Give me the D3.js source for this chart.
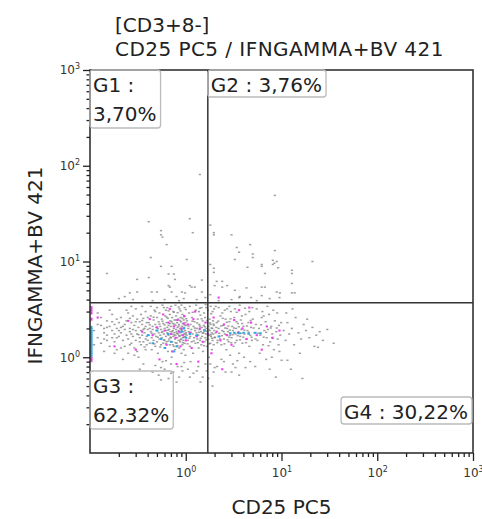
<!DOCTYPE html>
<html>
<head>
<meta charset="utf-8">
<script src="https://cdn.jsdelivr.net/npm/d3@7"></script>
<style>
body { margin: 0; background: #fff; }
text { font-family: "DejaVu Sans", sans-serif; }
</style>
</head>
<body>
<div id="plot"></div>
<script>
// titles / labels
var titleLines = ["[CD3+8-]", "CD25 PC5 / IFNGAMMA+BV 421"];
var xLabel = "CD25 PC5";
var yLabel = "IFNGAMMA+BV 421";
var majorTicks = [1, 10, 100, 1000];
var tickExp = ["0", "1", "2", "3"];

// quadrant gate
var cd25Gate = 1.7;
var ifngGate = 3.7;
var gateNames = ["G1", "G2", "G3", "G4"];
var gatePct = ["3,70%", "3,76%", "62,32%", "30,22%"];

// events [CD25, IFNg]
var grayEvents = [
  [1.4,81],[8.5,49],[0.41,26],[1.1,28],[0.55,21],[0.55,19],[0.57,18],[1.18,20],[1.8,24],[1.96,20],
  [1.96,19],[3.0,19],[0.63,15],[3.4,14],[4.7,15],[8.5,13],[0.43,11],[1.02,10.5],[5.0,12],[8.1,10.3],
  [8.9,10],[21,10],[0.55,8.9],[0.71,8.9],[1.8,9.3],[1.96,8.5],[1.96,7.7],[3.25,10.5],[4.4,8.7],[6.2,9.3],
  [8.1,9.3],[12.8,8.1],[12.8,7.5],[0.15,7.5],[0.31,6.5],[0.41,6.8],[0.66,7.4],[0.75,7.4],[0.77,6.5],[1.47,6.4],
  [6.7,7.5],[12.8,5.9],[1.8,4.5],[2.1,6.2],[2.4,6.2],[2.7,5.6],[2.4,5.4],[2.0,5.6],[4.3,5.3],[6.2,5.4],
  [6.7,5.4],[3.25,5.0],[1.15,5.4],[1.24,5.4],[1.1,5.6],[0.66,5.6],[0.68,5.4],[0.31,4.8],[0.26,4.7],[0.23,4.3],
  [0.44,4.8],[0.5,4.8],[0.71,4.8],[0.8,4.3],[0.91,4.8],[0.98,4.7],[1.47,4.8],[3.66,4.3],[8.9,4.8],[9.6,4.7],
  [12.8,4.7],[13.7,4.7],[5.0,11],[6.2,8.9],[8.4,9.6],[9.2,8.6],[3.6,12.5],[9.5,4.2],[3.6,4.2],[6.2,4.4],
  [0.28,4.0],[0.45,3.9],[0.6,4.0],[0.85,3.9],[1.3,4.0],[2.2,3.9],[3.0,4.0],[5.5,3.9],[7.5,4.1],[0.2,4.1],
  [0.95,4.1],[1.6,4.2],[4.8,4.2],
  [0.11,1.9],[0.12,2.2],[0.12,1.6],[0.13,2.6],[0.13,1.4],[0.14,1.8],[0.14,2.0],[0.15,1.5],[0.15,2.4],[0.15,1.7],
  [0.16,2.1],[0.16,1.3],[0.17,1.9],[0.17,2.8],[0.17,1.6],[0.18,2.2],[0.18,1.45],[0.18,1.75],[0.19,2.0],[0.19,1.2],
  [0.19,2.5],[0.2,1.65],[0.2,1.9],[0.11,1.35],[0.12,2.9],[0.14,1.15],[0.16,3.1],[0.13,2.15],[0.18,1.1],[0.2,2.3],
  [0.1,1.7],[0.1,2.4],
  [0.21,1.8],[0.21,2.6],[0.22,1.5],[0.22,2.1],[0.23,1.3],[0.23,1.95],[0.24,2.4],[0.24,1.7],[0.25,1.1],[0.25,2.9],
  [0.25,1.55],[0.26,2.0],[0.26,1.85],[0.27,2.3],[0.27,1.4],[0.28,1.65],[0.28,2.7],[0.29,1.25],[0.29,2.15],[0.3,1.9],
  [0.3,1.5],[0.3,3.2],[0.31,2.5],[0.31,1.75],[0.32,1.0],[0.32,2.05],[0.33,1.6],[0.33,2.35],[0.34,1.35],[0.34,1.9],
  [0.34,2.8],[0.35,1.7],[0.35,2.2],[0.36,1.45],[0.36,2.55],[0.36,0.85],[0.37,1.8],[0.37,2.0],[0.38,1.55],[0.38,3.0],
  [0.38,1.2],[0.39,2.3],[0.39,1.65],[0.4,1.95],[0.4,2.6],[0.22,0.95],[0.27,3.4],[0.33,0.75],[0.29,1.05],[0.24,3.1],
  [0.35,3.4],[0.31,1.15],[0.26,2.55],[0.38,2.1],[0.21,1.25],
  [0.41,1.7],[0.41,2.3],[0.42,1.4],[0.42,2.0],[0.43,1.85],[0.43,2.7],[0.44,1.2],[0.44,1.6],[0.45,2.1],[0.45,1.95],
  [0.46,1.5],[0.46,2.45],[0.47,1.75],[0.47,3.1],[0.48,1.3],[0.48,2.2],[0.49,1.65],[0.49,1.9],[0.5,2.6],[0.5,1.45],
  [0.51,2.0],[0.51,1.1],[0.52,1.8],[0.52,2.35],[0.53,1.55],[0.53,2.9],[0.54,1.7],[0.54,2.1],[0.55,1.35],[0.55,1.95],
  [0.56,2.5],[0.56,1.6],[0.57,0.9],[0.57,1.85],[0.58,2.25],[0.58,1.4],[0.59,1.75],[0.59,3.3],[0.6,2.0],[0.6,1.5],
  [0.61,2.7],[0.61,1.25],[0.62,1.9],[0.62,1.65],[0.63,2.3],[0.63,1.45],[0.64,2.05],[0.64,1.8],[0.65,1.15],[0.65,2.55],
  [0.66,1.7],[0.66,2.15],[0.67,1.55],[0.67,1.95],[0.68,2.8],[0.68,1.35],[0.69,2.4],[0.69,1.85],[0.7,1.6],[0.7,2.1],
  [0.71,1.0],[0.71,1.75],[0.72,2.6],[0.72,1.45],[0.73,1.9],[0.73,2.25],[0.74,1.65],[0.74,3.0],[0.75,1.3],[0.75,2.0],
  [0.76,1.8],[0.76,2.45],[0.77,1.55],[0.77,1.2],[0.78,2.15],[0.78,1.7],[0.79,1.95],[0.79,2.7],[0.8,1.4],[0.8,1.85],
  [0.81,2.3],[0.81,1.6],[0.82,2.05],[0.82,0.8],[0.83,1.75],[0.83,2.5],[0.84,1.5],[0.84,1.9],[0.85,2.2],[0.85,1.25],
  [0.86,1.65],[0.86,3.2],[0.87,2.0],[0.87,1.45],[0.88,2.6],[0.88,1.8],[0.89,1.55],[0.89,2.35],[0.9,1.7],[0.9,1.1],
  [0.91,2.1],[0.91,1.95],[0.92,1.35],[0.92,2.8],[0.93,1.6],[0.93,2.25],[0.94,1.85],[0.94,1.5],[0.95,2.45],[0.95,1.2],
  [0.96,1.75],[0.96,2.05],[0.97,1.4],[0.97,2.65],[0.98,1.9],[0.98,1.65],[0.99,2.3],[0.99,1.05],[1.0,1.8],[1.0,2.15],
  [0.45,0.7],[0.52,0.65],[0.6,0.75],[0.66,0.6],[0.74,0.7],[0.85,0.62],[0.92,0.72],[0.48,0.82],[0.7,0.85],[0.96,0.88],
  [0.55,0.58],[0.8,0.55],[0.43,3.4],[0.5,3.3],[0.57,3.5],[0.64,3.3],[0.7,3.4],[0.78,3.5],[0.84,3.35],[0.9,3.5],
  [0.97,3.3],[0.62,3.1],[0.75,2.95],[0.88,3.05],
  [1.02,1.7],[1.03,2.4],[1.05,1.5],[1.06,2.0],[1.07,1.85],[1.08,2.9],[1.1,1.3],[1.11,1.65],[1.12,2.2],[1.14,1.95],
  [1.15,1.45],[1.16,2.6],[1.18,1.75],[1.19,1.1],[1.2,2.1],[1.22,1.6],[1.23,2.35],[1.25,1.9],[1.26,1.4],[1.27,3.1],
  [1.29,1.8],[1.3,2.0],[1.32,1.55],[1.33,2.5],[1.35,1.7],[1.36,1.25],[1.38,2.2],[1.39,1.95],[1.41,1.5],[1.42,2.75],
  [1.44,1.85],[1.45,1.35],[1.47,2.05],[1.48,1.65],[1.5,2.4],[1.51,1.15],[1.53,1.8],[1.54,2.15],[1.56,1.45],[1.57,1.95],
  [1.59,2.6],[1.6,1.6],[1.62,1.75],[1.63,3.3],[1.65,2.0],[1.66,1.3],[1.68,2.3],[1.69,1.85],[1.71,1.55],[1.72,2.1],
  [1.74,1.0],[1.75,1.7],[1.77,2.5],[1.78,1.9],[1.8,1.4],[1.81,2.2],[1.83,1.65],[1.84,2.85],[1.86,1.8],[1.87,1.2],
  [1.89,2.0],[1.9,1.5],[1.92,2.4],[1.93,1.75],[1.95,1.35],[1.96,2.15],[1.98,1.9],[1.99,1.6],
  [1.05,0.75],[1.2,0.68],[1.35,0.8],[1.5,0.62],[1.65,0.72],[1.8,0.85],[1.95,0.7],[1.12,0.9],[1.42,0.55],[1.72,0.6],
  [1.1,3.4],[1.28,3.5],[1.46,3.3],[1.61,3.55],[1.82,3.4],[1.97,3.2],[1.37,3.0],[1.55,2.9],[1.9,3.0],
  [2.05,1.8],[2.1,2.3],[2.15,1.5],[2.2,2.0],[2.25,1.65],[2.3,2.7],[2.35,1.35],[2.4,1.9],[2.45,2.15],[2.5,1.55],
  [2.55,1.75],[2.6,2.5],[2.65,1.2],[2.7,2.0],[2.75,1.85],[2.8,1.45],[2.85,2.35],[2.9,1.7],[2.95,3.0],[3.0,1.6],
  [3.05,2.1],[3.1,1.9],[3.15,1.3],[3.2,2.6],[3.3,1.75],[3.35,2.0],[3.4,1.5],[3.5,2.25],[3.55,1.85],[3.6,1.1],
  [3.7,1.65],[3.75,2.45],[3.8,1.95],[3.9,1.4],[4.0,2.1],[4.1,1.75],[4.2,2.8],[4.3,1.55],[4.4,1.9],[4.5,2.3],
  [4.6,1.3],[4.7,1.7],[4.8,2.05],[4.9,1.5],[5.0,2.5],
  [2.12,0.8],[2.6,0.7],[3.1,0.85],[3.6,0.65],[4.2,0.78],[2.35,0.95],[2.9,1.05],[3.45,0.92],[4.05,1.0],[4.7,0.9],
  [2.2,3.3],[2.55,3.1],[2.85,3.4],[3.25,3.2],[3.65,3.5],[4.15,3.25],[4.6,3.0],[2.4,2.9],[3.85,2.7],[4.95,3.3],
  [5.2,1.8],[5.4,2.2],[5.6,1.5],[5.8,2.0],[6.0,1.7],[6.2,2.6],[6.4,1.35],[6.6,1.9],[6.8,2.35],[7.0,1.6],
  [7.2,1.95],[7.4,2.8],[7.6,1.45],[7.8,2.1],[8.0,1.75],[8.3,1.2],[8.5,2.4],[8.8,1.85],[9.1,1.55],[9.4,2.15],
  [9.7,1.7],[5.5,3.2],[6.3,3.0],[7.1,3.4],[8.2,3.1],[9.0,2.9],[5.9,1.1],[6.9,0.95],[7.9,1.0],[9.5,1.15],
  [5.3,0.8],[7.5,0.75],[8.7,0.62],[6.5,2.7],[9.9,2.3],
  [10.5,1.9],[11,1.5],[11.5,2.3],[12,1.75],[12.8,2.0],[13.5,1.35],[14,2.6],[15,1.8],[16,1.55],[17,2.2],
  [18,1.9],[19.5,1.6],[21,2.05],[23,1.7],[25,1.85],[11.2,2.9],[13,3.2],[15.5,1.1],[18.5,2.5],[22,1.3],
  [27,1.5],[12.5,0.75],[16.5,0.6],[30,1.95],[35,1.4],[24,1.27],[3.0,0.7],[10,0.93],[11.5,0.93],[1.9,0.5],
  // second pass over the dense core
  [0.32,1.72],[0.35,2.42],[0.37,1.28],[0.4,1.5],[0.42,2.18],[0.44,1.78],[0.46,2.62],[0.47,1.38],[0.49,2.05],[0.51,1.62],
  [0.53,2.22],[0.54,1.28],[0.56,1.82],[0.57,2.38],[0.59,1.52],[0.6,2.18],[0.62,1.38],[0.63,2.62],[0.65,1.92],[0.66,1.48],
  [0.68,2.25],[0.69,1.62],[0.71,2.35],[0.72,1.85],[0.73,1.35],[0.75,1.72],[0.76,2.22],[0.78,1.42],[0.79,2.45],[0.81,1.78],
  [0.82,1.32],[0.84,2.12],[0.85,1.68],[0.87,2.42],[0.88,1.52],[0.9,1.92],[0.92,2.55],[0.93,1.42],[0.95,1.62],[0.97,2.18],
  [0.99,1.75],[1.01,2.52],[1.04,1.38],[1.07,2.12],[1.09,1.58],[1.13,1.82],[1.17,2.38],[1.21,1.48],[1.24,2.02],[1.28,1.68],
  [1.31,2.28],[1.34,1.42],[1.37,1.82],[1.4,2.12],[1.43,1.58],[1.46,2.52],[1.5,1.78],[1.55,1.32],[1.58,2.08],[1.61,1.88],
  [1.64,1.52],[1.67,2.42],[1.7,1.68],[1.73,1.95],[1.76,1.38],[1.79,2.28],[1.82,1.72],[1.85,2.02],[1.88,1.58],[1.94,2.22],
  [2.02,1.62],[2.08,2.05],[2.13,1.42],[2.18,2.38],[2.23,1.78],[2.28,1.55],[2.33,2.12],[2.38,1.68],[2.43,2.55],[2.48,1.85],
  [2.53,1.38],[2.58,2.02],[2.63,1.72],[2.68,2.32],[2.73,1.52],[2.78,2.12],[2.83,1.62],[2.88,1.92],[2.93,2.52],[2.98,1.42],
  [3.08,1.72],[3.18,2.02],[3.28,1.42],[3.38,2.35],[3.48,1.68],[3.58,2.08],[3.68,1.52],[3.78,1.78],[3.88,2.25],[3.98,1.62],
  [4.08,1.92],[4.25,1.42],[4.35,2.12],[4.55,1.82],[4.75,2.42],[4.85,1.62],[5.1,2.02],[5.35,1.55],[5.7,1.78],[6.1,2.18],
  [6.5,1.62],[6.9,1.82],[7.3,1.32],[7.7,2.02],[8.1,1.58],[8.9,2.02],[9.3,1.35],[0.14,1.55],[0.17,2.35],[0.19,1.6],
  [0.23,2.2],[0.26,1.35],[0.28,1.95],[0.3,2.35],[0.33,1.45],[0.36,1.95],[0.39,1.35],[0.15,2.05],[0.21,2.05],[0.27,1.75],
  [0.55,0.78],[0.62,0.92],[0.7,0.68],[0.9,0.8],[1.1,0.62],[1.3,0.72],[1.6,0.85],[2.0,0.78],[2.5,0.9],[3.3,0.78],
  [0.48,3.0],[0.66,3.05],[0.82,2.92],[1.0,3.15],[1.18,2.95],[1.4,3.25],[1.7,3.1],[2.05,3.4],[2.7,3.2],[3.4,2.95]
];

var pinkEvents = [
  [0.12,2.6],[0.18,1.3],[0.25,2.4],[0.3,1.2],[0.35,1.85],[0.42,2.5],[0.45,1.7],[0.5,2.05],[0.55,1.55],[0.58,2.8],
  [0.6,1.9],[0.63,1.35],[0.66,2.3],[0.7,1.75],[0.72,1.15],[0.75,2.1],[0.78,1.6],[0.82,2.45],[0.85,1.85],[0.88,1.3],
  [0.9,2.0],[0.93,1.7],[0.96,2.7],[1.0,1.5],[1.05,2.2],[1.1,1.8],[1.15,1.25],[1.2,2.5],[1.3,1.65],[1.4,2.0],
  [1.5,1.45],[1.6,2.3],[1.7,1.75],[1.85,1.1],[1.95,2.6],[2.1,1.85],[2.3,1.5],[2.5,2.2],[2.7,1.7],[3.0,1.35],
  [3.2,2.45],[3.5,1.8],[3.9,2.0],[4.3,1.55],[4.8,2.3],[5.5,1.7],[6.2,1.2],[7.0,2.1],[8.0,1.6],[9.5,1.9],
  [0.8,0.85],[1.35,0.9],[2.4,0.75],[0.53,0.95],[3.6,3.1],[0.68,3.2],[1.25,3.0],[4.6,3.3],[2.2,4.2],[0.95,2.25]
];

var blueEvents = [
  [0.4,1.7],[0.45,1.4],[0.5,1.9],[0.55,1.55],[0.6,1.25],[0.65,1.75],[0.7,1.45],[0.8,1.3],[0.9,1.85],[1.0,1.6],
  [1.1,1.75],[1.3,1.7],[1.55,1.9],[2.9,1.78],[3.2,1.8],[3.6,1.78],[4.0,1.8],[4.5,1.76],[5.3,1.8],[6.0,1.78],
  [2.2,1.65],[0.75,1.15],[0.95,2.0]
];

// events below the axis minimum, piled up on the left edge (IFNg only)
var blueEdge = [1.02,1.08,1.13,1.2,1.27,1.33,1.4,1.47,1.55,1.62,1.7,1.78,1.86,1.95,2.05];
var pinkEdge = [2.9,3.1,3.3,0.92,0.97,2.5];

var svgWidth = 482, svgHeight = 519;
var margin = {top: 70, right: 9, bottom: 66, left: 90};
var width = svgWidth - margin.left - margin.right;
var height = svgHeight - margin.top - margin.bottom;

var svg = d3.select("#plot").append("svg")
  .attr("width", svgWidth)
  .attr("height", svgHeight);

var x = d3.scaleLog().domain([0.1, 1000]).range([0, width]);
var y = d3.scaleLog().domain([0.1, 1000]).range([height, 0]);

var chart = svg.append("g")
  .attr("transform", `translate(${margin.left}, ${margin.top})`);

// title
svg.selectAll(".title").data(titleLines).enter().append("text")
  .attr("x", 115)
  .attr("y", (d, i) => 32 + i * 24)
  .attr("font-size", 20)
  .attr("letter-spacing", (d, i) => i == 1 ? 0.45 : 0)
  .attr("fill", "#222")
  .text(d => d);

svg.append("defs").append("clipPath").attr("id", "clip")
  .append("rect").attr("width", width).attr("height", height);

var dots = chart.append("g").attr("clip-path", "url(#clip)");

dots.selectAll(".ev").data(grayEvents).enter().append("rect")
  .attr("x", d => x(d[0]) - 1)
  .attr("y", d => y(d[1]) - 0.75)
  .attr("width", 2.2).attr("height", 1.5)
  .attr("fill", "#777").attr("opacity", 0.7);

dots.selectAll(".pk").data(pinkEvents).enter().append("rect")
  .attr("x", d => x(d[0]) - 1)
  .attr("y", d => y(d[1]) - 1)
  .attr("width", 2.2).attr("height", 2)
  .attr("fill", "#f03cf0");

dots.selectAll(".bl").data(blueEvents).enter().append("rect")
  .attr("x", d => x(d[0]) - 1)
  .attr("y", d => y(d[1]) - 1)
  .attr("width", 2.5).attr("height", 2)
  .attr("fill", "#2aa8e6");

dots.selectAll(".be").data(blueEdge).enter().append("rect")
  .attr("x", 0).attr("y", d => y(d) - 1.5)
  .attr("width", 2.5).attr("height", 3)
  .attr("fill", "#2aa8e6");

dots.selectAll(".pe").data(pinkEdge).enter().append("rect")
  .attr("x", 0).attr("y", d => y(d) - 1.5)
  .attr("width", 2.5).attr("height", 3)
  .attr("fill", "#f03cf0");

// gates
chart.append("line")
  .attr("x1", x(cd25Gate)).attr("x2", x(cd25Gate))
  .attr("y1", 0).attr("y2", height)
  .attr("stroke", "#333").attr("stroke-width", 1.5);
chart.append("line")
  .attr("x1", 0).attr("x2", width)
  .attr("y1", y(ifngGate)).attr("y2", y(ifngGate))
  .attr("stroke", "#333").attr("stroke-width", 1.5);

// frame
chart.append("rect")
  .attr("width", width).attr("height", height)
  .attr("fill", "none").attr("stroke", "#333").attr("stroke-width", 1.6);

// axes
var minorTicks = x.ticks().filter(v => majorTicks.indexOf(v) < 0 && v > 0.1);

function supLabels(g) {
  g.selectAll(".tick text").text(null).each(function(d) {
    var t = d3.select(this);
    t.append("tspan").text("10");
    t.append("tspan").attr("dy", -5).attr("font-size", 8).text(tickExp[majorTicks.indexOf(d)]);
  });
}

var xAxis = chart.append("g")
  .attr("transform", `translate(0, ${height})`)
  .call(d3.axisBottom(x).tickValues(majorTicks).tickSize(8).tickPadding(7));
xAxis.call(supLabels);
chart.append("g")
  .attr("transform", `translate(0, ${height})`)
  .call(d3.axisBottom(x).tickValues(minorTicks).tickSize(4).tickFormat(""));

var yAxis = chart.append("g")
  .call(d3.axisLeft(y).tickValues(majorTicks).tickSize(7).tickPadding(3));
yAxis.call(supLabels);
chart.append("g")
  .call(d3.axisLeft(y).tickValues(minorTicks).tickSize(3.5).tickFormat(""));

chart.selectAll(".domain").remove();
chart.selectAll(".tick line").attr("stroke", "#222").attr("stroke-width", 1.3);
chart.selectAll(".tick text")
  .attr("font-family", "'DejaVu Sans Condensed', 'DejaVu Sans', sans-serif")
  .attr("font-size", 12).attr("fill", "#333");

// axis titles
svg.append("text")
  .attr("x", margin.left + width / 2).attr("y", 514)
  .attr("text-anchor", "middle").attr("font-size", 20).attr("fill", "#222")
  .text(xLabel);
svg.append("text")
  .attr("transform", `translate(42, ${margin.top + height / 2 + 4}) rotate(-90)`)
  .attr("text-anchor", "middle").attr("font-size", 20).attr("fill", "#222")
  .text(yLabel);

// gate labels
function gateLabel(lines, bx, by, alignRight) {
  var g = chart.append("g");
  var box = g.append("rect");
  var txt = g.selectAll("text").data(lines).enter().append("text")
    .attr("y", (d, i) => by + 22 + i * 29)
    .attr("font-size", 20).attr("fill", "#222")
    .text(d => d);
  var w = d3.max(txt.nodes(), n => n.getComputedTextLength()) + 7;
  var left = alignRight ? bx - w : bx;
  txt.attr("x", left + 3);
  box.attr("x", left).attr("y", by)
    .attr("width", w).attr("height", lines.length == 1 ? 27 : 58)
    .attr("rx", 3).attr("fill", "none")
    .attr("stroke", "#bbb").attr("stroke-width", 1.3);
}

gateLabel([gateNames[0] + " :", gatePct[0]], 0, 0, false);
gateLabel([gateNames[1] + " : " + gatePct[1]], x(cd25Gate), 0, false);
gateLabel([gateNames[2] + " :", gatePct[2]], 0, height - 82, false);
gateLabel([gateNames[3] + " : " + gatePct[3]], width - 1, height - 56, true);
</script>
</body>
</html>
